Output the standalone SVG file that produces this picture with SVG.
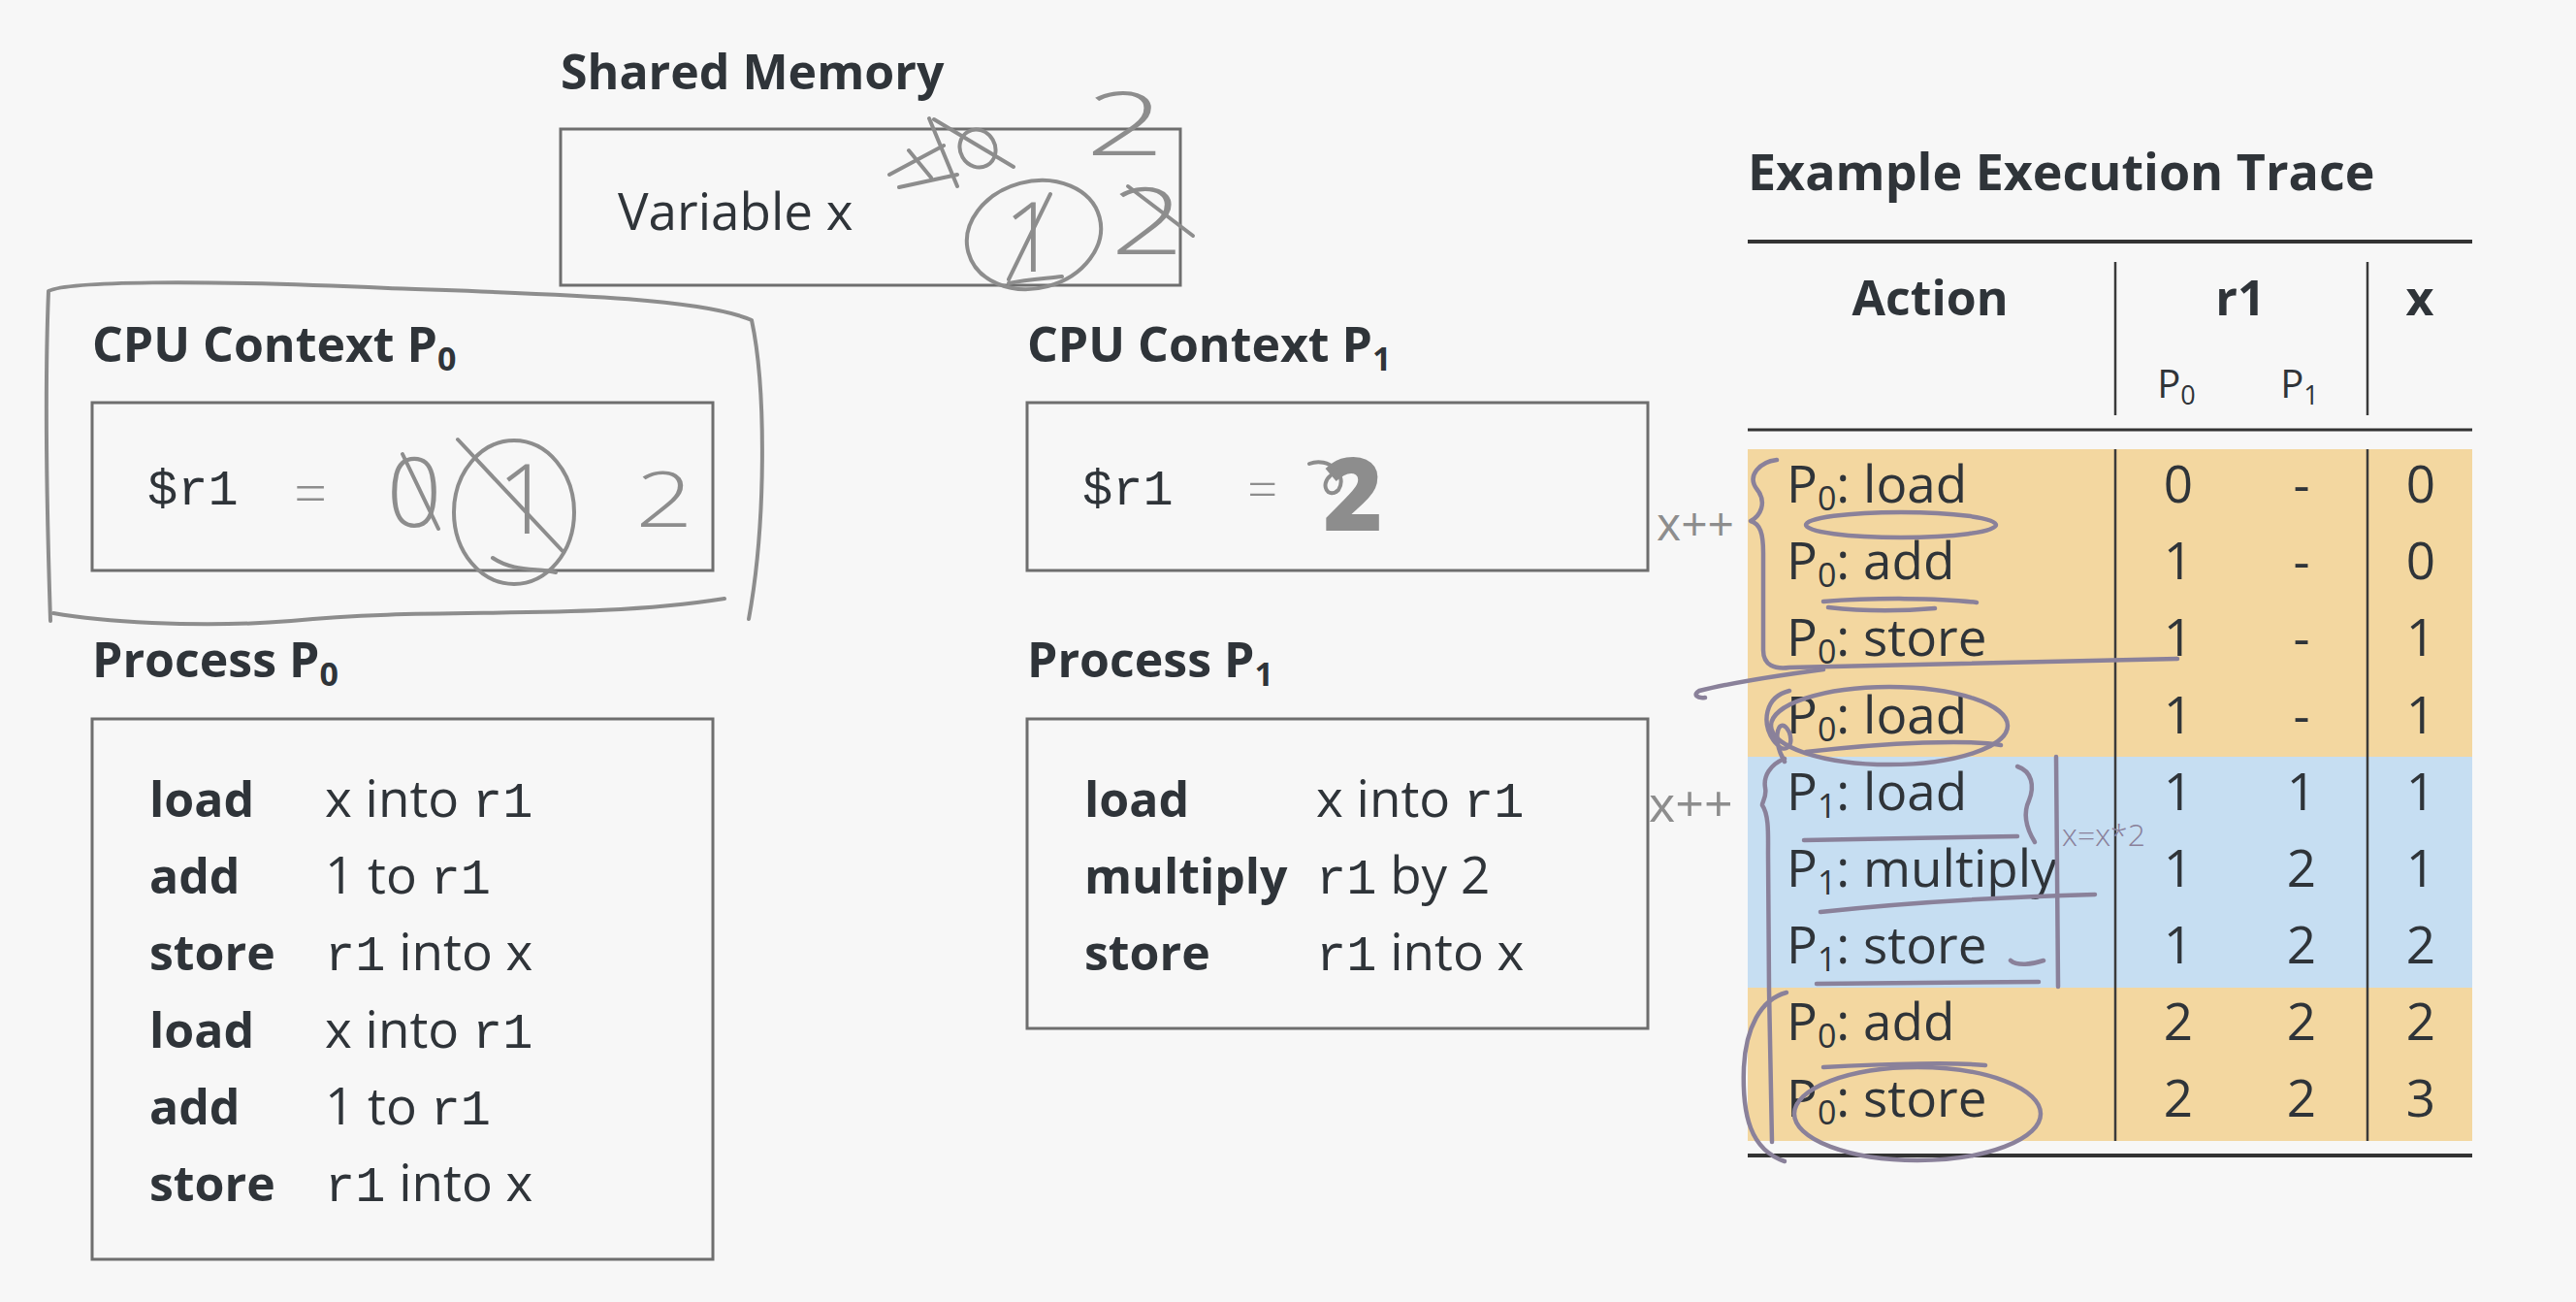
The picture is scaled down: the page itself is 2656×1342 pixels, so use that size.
<svg xmlns="http://www.w3.org/2000/svg" width="2656" height="1342" viewBox="0 0 2656 1342">
<defs>
<style>
.bg{fill:#f7f7f7}
.box{fill:none;stroke:#6e6e6e;stroke-width:3}
.h{font-family:"Open Sans","Noto Sans",sans-serif;font-weight:700;font-size:50px;fill:#2f3439}
.t{font-family:"Open Sans","Noto Sans",sans-serif;font-size:53px;fill:#2f3439}
.b{font-weight:700;font-size:50px}
.m{font-family:"Liberation Mono","DejaVu Sans Mono",monospace;font-size:52px;fill:#2f3439}
.sub{font-size:34px}
.c{text-anchor:middle}
.rule{stroke:#333;fill:none}
.vl{stroke:#3a3a3a;stroke-width:2.5}
.or{fill:#f3d7a0}
.bl{fill:#c6def2}
.hw{fill:none;stroke:#8d8d8d;stroke-width:4;stroke-linecap:round;stroke-linejoin:round}
.hwp{fill:none;stroke:#8a819a;stroke-width:4.5;stroke-linecap:round;stroke-linejoin:round}
.hwt{font-family:"Open Sans","DejaVu Sans",sans-serif;font-weight:300;fill:#8d8d8d}
</style>
</defs>
<rect class="bg" x="0" y="0" width="2656" height="1342"/>

<g id="shared-memory">
<text class="h" x="578" y="92">Shared Memory</text>
<rect class="box" x="578" y="133" width="639" height="161"/>
<text class="t" x="637" y="237">Variable x</text>
</g>

<g id="cpu-context-p0">
<text class="h" x="95" y="373">CPU Context P<tspan class="sub" dy="9">0</tspan></text>
<rect class="box" x="95" y="415" width="640" height="173"/>
<text class="m" x="152" y="520">$r1</text>
</g>

<g id="cpu-context-p1">
<text class="h" x="1059" y="373">CPU Context P<tspan class="sub" dy="9">1</tspan></text>
<rect class="box" x="1059" y="415" width="640" height="173"/>
<text class="m" x="1116" y="520">$r1</text>
</g>

<g id="process-p0">
<text class="h" x="95" y="698">Process P<tspan class="sub" dy="9">0</tspan></text>
<rect class="box" x="95" y="741" width="640" height="557"/>
<text class="t b" x="154" y="842">load</text><text class="t" x="335" y="842">x into <tspan class="m">r1</tspan></text>
<text class="t b" x="154" y="921">add</text><text class="t" x="335" y="921">1 to <tspan class="m">r1</tspan></text>
<text class="t b" x="154" y="1000">store</text><text class="t" x="335" y="1000"><tspan class="m">r1</tspan> into x</text>
<text class="t b" x="154" y="1080">load</text><text class="t" x="335" y="1080">x into <tspan class="m">r1</tspan></text>
<text class="t b" x="154" y="1159">add</text><text class="t" x="335" y="1159">1 to <tspan class="m">r1</tspan></text>
<text class="t b" x="154" y="1238">store</text><text class="t" x="335" y="1238"><tspan class="m">r1</tspan> into x</text>
</g>

<g id="process-p1">
<text class="h" x="1059" y="698">Process P<tspan class="sub" dy="9">1</tspan></text>
<rect class="box" x="1059" y="741" width="640" height="319"/>
<text class="t b" x="1118" y="842">load</text><text class="t" x="1357" y="842">x into <tspan class="m">r1</tspan></text>
<text class="t b" x="1118" y="921">multiply</text><text class="t" x="1357" y="921"><tspan class="m">r1</tspan> by 2</text>
<text class="t b" x="1118" y="1000">store</text><text class="t" x="1357" y="1000"><tspan class="m">r1</tspan> into x</text>
</g>

<g id="execution-trace">
<text class="h" x="1802" y="196" style="font-size:52px">Example Execution Trace</text>
<line class="rule" x1="1802" y1="249" x2="2549" y2="249" stroke-width="4"/>
<text class="h c" x="1990" y="325">Action</text>
<text class="h c" x="2310" y="325">r1</text>
<text class="h c" x="2495" y="325">x</text>
<text class="t c" x="2244" y="410" style="font-size:40px">P<tspan style="font-size:27px" dy="7">0</tspan></text>
<text class="t c" x="2371" y="410" style="font-size:40px">P<tspan style="font-size:27px" dy="7">1</tspan></text>
<line class="vl" x1="2181" y1="270" x2="2181" y2="428"/>
<line class="vl" x1="2441" y1="270" x2="2441" y2="428"/>
<line class="rule" x1="1802" y1="443" x2="2549" y2="443" stroke-width="3"/>
<rect class="or" x="1802" y="463" width="747" height="317"/>
<rect class="bl" x="1802" y="780" width="747" height="238"/>
<rect class="or" x="1802" y="1018" width="747" height="158"/>
<line class="vl" x1="2181" y1="463" x2="2181" y2="1176"/>
<line class="vl" x1="2441" y1="463" x2="2441" y2="1176"/>
<line class="rule" x1="1802" y1="1191" x2="2549" y2="1191" stroke-width="4"/>
<g class="t">
<text x="1842" y="518">P<tspan class="sub" dy="8">0</tspan><tspan dy="-8">: load</tspan></text>
<text x="1842" y="597">P<tspan class="sub" dy="8">0</tspan><tspan dy="-8">: add</tspan></text>
<text x="1842" y="676">P<tspan class="sub" dy="8">0</tspan><tspan dy="-8">: store</tspan></text>
<text x="1842" y="756">P<tspan class="sub" dy="8">0</tspan><tspan dy="-8">: load</tspan></text>
<text x="1842" y="835">P<tspan class="sub" dy="8">1</tspan><tspan dy="-8">: load</tspan></text>
<text x="1842" y="914">P<tspan class="sub" dy="8">1</tspan><tspan dy="-8">: multiply</tspan></text>
<text x="1842" y="993">P<tspan class="sub" dy="8">1</tspan><tspan dy="-8">: store</tspan></text>
<text x="1842" y="1072">P<tspan class="sub" dy="8">0</tspan><tspan dy="-8">: add</tspan></text>
<text x="1842" y="1151">P<tspan class="sub" dy="8">0</tspan><tspan dy="-8">: store</tspan></text>
</g>
<g class="t c">
<text x="2246" y="518">0</text><text x="2373" y="518">-</text><text x="2496" y="518">0</text>
<text x="2246" y="597">1</text><text x="2373" y="597">-</text><text x="2496" y="597">0</text>
<text x="2246" y="676">1</text><text x="2373" y="676">-</text><text x="2496" y="676">1</text>
<text x="2246" y="756">1</text><text x="2373" y="756">-</text><text x="2496" y="756">1</text>
<text x="2246" y="835">1</text><text x="2373" y="835">1</text><text x="2496" y="835">1</text>
<text x="2246" y="914">1</text><text x="2373" y="914">2</text><text x="2496" y="914">1</text>
<text x="2246" y="993">1</text><text x="2373" y="993">2</text><text x="2496" y="993">2</text>
<text x="2246" y="1072">2</text><text x="2373" y="1072">2</text><text x="2496" y="1072">2</text>
<text x="2246" y="1151">2</text><text x="2373" y="1151">2</text><text x="2496" y="1151">3</text>
</g>
</g>

<g id="connectors"></g>

<g id="annotations">
<!-- shared memory scribbles -->
<path class="hw" d="M917 180 L973 150 M927 193 L987 180 M958 122 L987 192 M937 155 L960 183 M963 123 L1045 172"/>
<ellipse class="hw" cx="1008" cy="153" rx="18" ry="20" transform="rotate(-30 1008 153)"/>
<ellipse class="hw" cx="1066" cy="242" rx="70" ry="55" transform="rotate(-15 1066 242)"/>
<text class="hwt c" x="1063" y="280" style="font-size:100px">1</text>
<path class="hw" d="M1040 288 L1083 200 M1040 292 C1060 288 1080 287 1095 285"/>
<text class="hwt c" x="1160" y="160" style="font-size:90px" transform="translate(1160 0) scale(1.6 1) translate(-1160 0)">2</text>
<text class="hwt c" x="1183" y="262" style="font-size:95px" transform="translate(1183 0) scale(1.4 1) translate(-1183 0)">2</text>
<path class="hw" d="M1163 192 L1230 243"/>

<!-- CPU context P0 scribbles -->
<path class="hw" d="M52 640 C48 520 46 400 50 300 C70 290 200 288 400 297 C560 303 720 306 775 330 C790 400 790 540 772 638"/>
<path class="hw" d="M747 617 C600 640 450 625 300 640 C200 648 100 640 55 632"/>
<text class="hwt" x="303" y="530" style="font-size:60px">=</text>
<text class="hwt c" x="427" y="543" style="font-size:100px">0</text>
<path class="hw" d="M415 468 L452 545"/>
<ellipse class="hw" cx="530" cy="528" rx="62" ry="74"/>
<text class="hwt c" x="541" y="550" style="font-size:100px">1</text>
<path class="hw" d="M472 453 L580 568 M508 575 C530 590 555 585 573 590"/>
<text class="hwt c" x="685" y="543" style="font-size:80px" transform="translate(685 0) scale(1.3 1) translate(-685 0)">2</text>

<!-- CPU context P1 scribbles -->
<text class="hwt" x="1286" y="524" style="font-size:55px">=</text>
<text class="hwt c" x="1395" y="547" style="font-size:105px;font-weight:800">2</text>
<path class="hw" d="M1350 478 C1370 470 1390 490 1380 505 C1370 515 1360 500 1372 490" stroke-width="6"/>

<!-- x++ notes -->
<text class="hwt" x="1708" y="557" style="font-size:48px;font-weight:400">x++</text>
<text class="hwt" x="1700" y="847" style="font-size:52px;font-weight:400">x++</text>

<!-- table scribbles -->
<path class="hwp" d="M1832 474 C1815 476 1800 490 1812 505 C1822 518 1815 532 1805 537 C1815 540 1818 550 1818 570 L1818 670 C1818 686 1830 690 1845 688 L2245 679"/>
<path class="hwp" d="M1880 690 C1820 698 1780 705 1752 712 C1745 716 1750 720 1758 719"/>
<ellipse class="hwp" cx="1960" cy="541" rx="98" ry="13"/>
<path class="hwp" d="M1880 620 C1930 616 2000 616 2038 621 M1885 626 C1920 630 1960 630 1995 627"/>
<ellipse class="hwp" cx="1948" cy="748" rx="122" ry="40"/>
<path class="hwp" d="M1845 712 C1820 718 1815 745 1830 765 C1840 778 1850 770 1845 755 C1835 735 1825 760 1840 785"/>
<path class="hwp" d="M1862 775 C1950 765 2030 762 2063 768" stroke-width="6"/>
<path class="hwp" d="M1840 782 C1825 788 1818 800 1820 812 C1822 822 1816 828 1817 830 C1824 840 1823 860 1823 880 L1824 1020 L1827 1177"/>
<path class="hwp" d="M1842 1023 C1815 1030 1800 1060 1798 1100 C1796 1150 1805 1185 1840 1197"/>
<path class="hwp" d="M1860 866 L2080 862"/>
<path class="hwp" d="M1877 940 C1950 932 2050 925 2160 922"/>
<path class="hwp" d="M1873 1014 L2102 1012 M2073 990 C2080 996 2095 994 2107 990"/>
<path class="hwp" d="M2080 790 C2095 795 2098 810 2092 825 C2085 840 2090 855 2098 868"/>
<path class="hwp" d="M2120 780 L2122 1017" stroke-width="6"/>
<text class="hwt" x="2126" y="872" style="font-size:32px;fill:#8a819a">x=x*2</text>
<ellipse class="hwp" cx="1977" cy="1148" rx="127" ry="48"/>
<path class="hwp" d="M1880 1100 C1950 1096 2020 1095 2047 1098" stroke-width="6"/>
</g>
</svg>
